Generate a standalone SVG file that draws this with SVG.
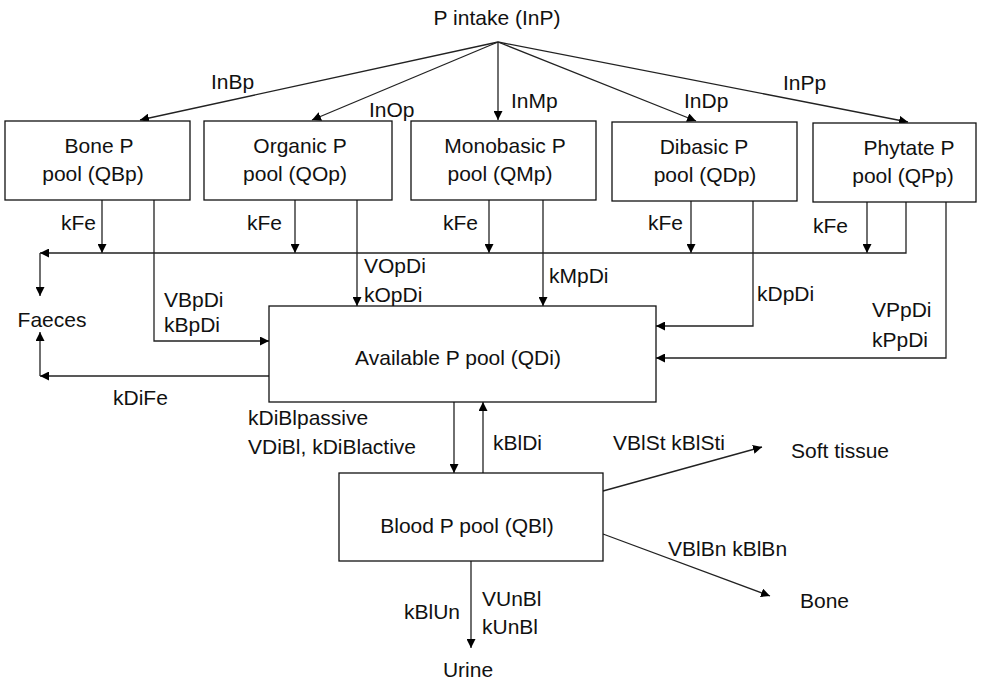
<svg xmlns="http://www.w3.org/2000/svg" width="981" height="681" viewBox="0 0 981 681">
<defs>
<marker id="ah" viewBox="0 0 10 10" refX="10" refY="5" markerWidth="9" markerHeight="9" markerUnits="userSpaceOnUse" orient="auto">
<path d="M0,0 L10,5 L0,10 z" fill="#000"/>
</marker>
<style>
text{font-family:"Liberation Sans",Arial,Helvetica,sans-serif;font-size:21px;fill:#111}
.c{text-anchor:middle}
rect{fill:#fff;stroke:#111;stroke-width:1.3}
.ln{fill:none;stroke:#222;stroke-width:1.3}
.ar{fill:none;stroke:#222;stroke-width:1.3;marker-end:url(#ah)}
</style>
</defs>
<rect x="0" y="0" width="981" height="681" style="fill:#fff;stroke:none"/>

<g id="connectors">
<!-- intake arrows -->
<path class="ar" d="M498,42 L140,120"/>
<path class="ar" d="M498,42 L312,120"/>
<path class="ar" d="M498,42 L498,120"/>
<path class="ar" d="M498,42 L696,121"/>
<path class="ar" d="M498,42 L908,122"/>
<!-- kFe arrows -->
<path class="ar" d="M102,200 L102,253"/>
<path class="ar" d="M295,200 L295,253"/>
<path class="ar" d="M489,200 L489,253"/>
<path class="ar" d="M691,201 L691,253"/>
<path class="ar" d="M867,202 L867,253"/>
<!-- faeces collector -->
<path class="ar" d="M906,202 L906,253 L40,253"/>
<path class="ar" d="M40,253 L40,296"/>
<!-- flows to available pool -->
<path class="ar" d="M154,200 L154,341 L269,341"/>
<path class="ar" d="M357,200 L357,306"/>
<path class="ar" d="M543,200 L543,306"/>
<path class="ar" d="M753,201 L753,326 L656,326"/>
<path class="ar" d="M946,202 L946,358 L656,358"/>
<!-- kDiFe -->
<path class="ar" d="M269,376 L40,376"/>
<path class="ar" d="M40,376 L40,332"/>
<!-- available <-> blood -->
<path class="ar" d="M454,402 L454,473"/>
<path class="ar" d="M483,473 L483,402"/>
<!-- blood outputs -->
<path class="ar" d="M603,491 L762,447"/>
<path class="ar" d="M603,534 L770,596"/>
<path class="ar" d="M471,561 L471,648"/>

<!-- labels -->
<text x="211" y="89">InBp</text>
<text x="369" y="117">InOp</text>
<text x="511" y="108">InMp</text>
<text x="684" y="108">InDp</text>
<text x="783" y="90">InPp</text>
<text x="61" y="230">kFe</text>
<text x="247" y="230">kFe</text>
<text x="443" y="230">kFe</text>
<text x="648" y="230">kFe</text>
<text x="813" y="233">kFe</text>
<text x="364" y="273">VOpDi</text>
<text x="364" y="302">kOpDi</text>
<text x="164" y="307">VBpDi</text>
<text x="164" y="332">kBpDi</text>
<text x="549" y="283">kMpDi</text>
<text x="757" y="301">kDpDi</text>
<text x="872" y="317">VPpDi</text>
<text x="872" y="347">kPpDi</text>
<text x="113" y="405">kDiFe</text>
<text x="248" y="425">kDiBlpassive</text>
<text x="248" y="454">VDiBl, kDiBlactive</text>
<text x="493" y="450">kBlDi</text>
<text x="613" y="450">VBlSt kBlSti</text>
<text x="668" y="556">VBlBn kBlBn</text>
<text x="404" y="619">kBlUn</text>
<text x="482" y="606">VUnBl</text>
<text x="482" y="634">kUnBl</text>
</g>

<g id="intake"><text class="c" x="497" y="25">P intake (InP)</text></g>

<g id="bone-pool">
<rect x="5" y="121" width="185" height="79"/>
<text class="c" x="99" y="153">Bone P</text>
<text class="c" x="93" y="181">pool (QBp)</text>
</g>
<g id="organic-pool">
<rect x="204" y="121" width="188" height="79"/>
<text class="c" x="300" y="153">Organic P</text>
<text class="c" x="295" y="181">pool (QOp)</text>
</g>
<g id="monobasic-pool">
<rect x="411" y="121" width="185" height="79"/>
<text class="c" x="505" y="153">Monobasic P</text>
<text class="c" x="500" y="181">pool (QMp)</text>
</g>
<g id="dibasic-pool">
<rect x="612" y="122" width="185" height="79"/>
<text class="c" x="704" y="154">Dibasic P</text>
<text class="c" x="705" y="182">pool (QDp)</text>
</g>
<g id="phytate-pool">
<rect x="813" y="123" width="163" height="79"/>
<text class="c" x="909" y="155">Phytate P</text>
<text class="c" x="903" y="183">pool (QPp)</text>
</g>
<g id="available-pool">
<rect x="269" y="306" width="387" height="96"/>
<text class="c" x="458" y="365">Available P pool (QDi)</text>
</g>
<g id="blood-pool">
<rect x="339" y="473" width="264" height="88"/>
<text class="c" x="467" y="533">Blood P pool (QBl)</text>
</g>
<g id="faeces"><text class="c" x="52" y="327">Faeces</text></g>
<g id="soft-tissue"><text x="791" y="458">Soft tissue</text></g>
<g id="bone"><text x="800" y="608">Bone</text></g>
<g id="urine"><text class="c" x="468" y="677">Urine</text></g>
</svg>
